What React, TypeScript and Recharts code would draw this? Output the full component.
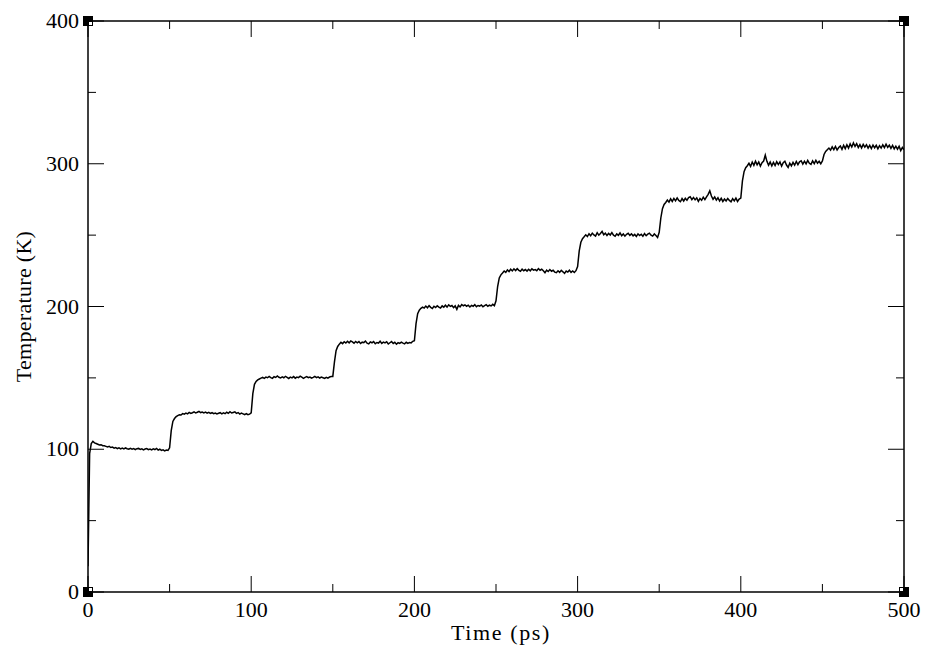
import React from 'react';
import { LineChart, Line, XAxis, YAxis, ReferenceDot } from 'recharts';

// temperature (K) sampled every 1 ps, one array per 50 ps heating step
const seg000 = [18, 97, 104, 105.5, 104.5, 104, 103.5, 103, 103.2, 102.5, 102.4, 102, 101.6, 102, 101.2, 101.5, 100.8, 101.2, 100.5, 101, 100.3, 100.8, 100.2, 100.9, 100.4, 100, 100.7, 100.1, 100.5, 99.8, 100.4, 100.6, 99.9, 100.3, 99.6, 100.2, 100.5, 99.7, 100.1, 99.5, 100.3, 99.8, 100.6, 99.4, 100, 99.2, 99.6, 98.9, 99.4, 99.2];
const seg050 = [101, 113, 119.5, 121.5, 122.8, 123.5, 124.2, 124, 125, 124.6, 125.3, 124.8, 125.8, 125.1, 125.6, 126.2, 125.4, 125.9, 126.5, 125.7, 126.1, 125.5, 126, 125.3, 125.8, 125.1, 125.6, 124.9, 125.4, 124.7, 125.2, 125.6, 124.8, 125.5, 124.9, 125.9, 125.2, 126.3, 125.4, 125.8, 126.2, 125.1, 125.7, 124.6, 125.3, 124.8, 124.3, 125, 124.2, 124.6];
const seg100 = [125.5, 139, 145.5, 147.5, 148.6, 149.2, 149.8, 150.3, 149.6, 150.5, 150.1, 151, 150.2, 149.7, 150.8, 150.3, 151.3, 150.4, 149.9, 150.7, 150.1, 151.1, 150.4, 149.6, 150.5, 150, 150.9, 149.8, 150.6, 150.2, 151.2, 150.5, 149.7, 150.4, 150.9, 150.1, 150.6, 149.8, 150.3, 151, 150.2, 150.7, 149.9, 150.5, 150.1, 149.6, 150.4, 149.8, 150.6, 150.9];
const seg150 = [151, 161, 169, 172, 173.6, 174.9, 174, 175.3, 174.4, 175.6, 174.5, 175.9, 175.2, 174.3, 175.5, 174.6, 175.4, 174.1, 175, 174.7, 175.8, 174.3, 173.8, 175.2, 174.6, 175.4, 173.9, 174.8, 174.4, 175.7, 174.2, 175.1, 174.5, 175.3, 173.7, 174.6, 175.4, 174.1, 174.9, 173.6, 174.7, 174.2, 175.1, 174.4, 173.8, 174.9, 174.1, 174.8, 174.5, 175.6];
const seg200 = [176, 188, 195, 197.4, 198.7, 199.6, 198.9, 200.3, 199.1, 200.6, 199.4, 198.6, 200.2, 199.3, 200.5, 199.6, 198.9, 200.4, 199.5, 200.9, 199.6, 201.2, 200.1, 200.7, 199.2, 200.4, 198, 200.8, 199.7, 201.4, 200.5, 201.1, 200.2, 200.9, 199.7, 200.8, 200.2, 201.3, 199.9, 200.7, 200.3, 201.1, 199.8, 200.6, 201.3, 200.2, 200.9, 200.4, 201.5, 200.6];
const seg250 = [204, 214, 220, 222.2, 223.5, 224.9, 223.9, 225.6, 224.5, 226.1, 224.9, 226.4, 225.2, 226.5, 225.3, 224.7, 226.2, 225.1, 225.9, 224.8, 226.1, 225, 226.4, 225.5, 225.9, 225.1, 226.6, 225.4, 226.1, 225, 223.6, 225.5, 224.5, 225.9, 224.7, 225.4, 224.1, 223.7, 225, 223.9, 225.3, 224.3, 223.2, 224.8, 224.1, 225.4, 223.9, 224.9, 223.8, 225.1];
const seg300 = [228, 239, 245, 247.5, 248.8, 250.2, 249, 251, 249.6, 251.4, 250.1, 249.3, 251.7, 250, 251.1, 252.6, 250.3, 251.4, 249.7, 251.2, 250.1, 251.8, 250, 249.2, 250.9, 249.9, 251.5, 249.6, 250.8, 249.3, 250.6, 251.3, 249.8, 250.9, 249.5, 250.5, 249.1, 250.9, 249.7, 250.6, 249.2, 251.1, 249.6, 250.7, 251.4, 250, 249.3, 250.8, 249.7, 248.4];
const seg350 = [252, 262, 268.5, 271.5, 272.9, 274.6, 273.1, 275.4, 273.6, 275.7, 274, 276.1, 274.3, 273.4, 275.6, 273.9, 275.8, 274.4, 276.3, 276.9, 274.9, 276.4, 274.7, 276.1, 273.6, 275.7, 274.4, 276.6, 274.9, 276.8, 278.6, 281, 277.4, 275.1, 276.7, 274.5, 276.2, 273.9, 275.8, 273.6, 275.3, 273.9, 275.7, 274.3, 273.3, 275.6, 274, 275.9, 273.6, 275.2];
const seg400 = [276, 288, 294.5, 297.2, 298.6, 300.3, 298.1, 301.2, 298.9, 301.8, 299.2, 301.3, 298.4, 300.7, 301.9, 306, 301.7, 299, 301.2, 298.5, 300.9, 298.8, 301.5, 299.4, 301.3, 298.3, 300.8, 301.8, 299.1, 297.4, 300.4, 298.5, 301, 299, 301.6, 299.4, 301.3, 302.1, 299.8, 301.8, 299.9, 302.3, 300.3, 299.6, 302, 300.1, 302.4, 300.4, 301.7, 300];
const seg450 = [302, 306.5, 308.6, 309.8, 311, 309.5, 311.8, 309.9, 312.1, 309.6, 311.4, 312.5, 310.1, 312.9, 310.6, 313.3, 311, 313.9, 311.7, 314.6, 312.1, 314.1, 311.4, 313.4, 311.1, 313.6, 311.6, 313.3, 310.9, 312.9, 310.7, 313.1, 311.2, 312.9, 310.5, 312.7, 311, 313.3, 311.3, 313.7, 311.5, 313, 310.8, 312.8, 310.4, 312.3, 310.2, 312.2, 309.2, 311.4, 309.8];

const segStarts = [0, 50, 100, 150, 200, 250, 300, 350, 400, 450];
const segValues = [seg000, seg050, seg100, seg150, seg200, seg250, seg300, seg350, seg400, seg450];

const xTicks = [0, 50, 100, 150, 200, 250, 300, 350, 400, 450, 500];
const yTicks = [0, 50, 100, 150, 200, 250, 300, 350, 400];

const data = segValues.flatMap((vals, s) =>
  vals.map((temp, i) => ({ time: segStarts[s] + i, temp }))
);

// frame corners, with the side the little notch faces
const corners = [
  { time: 0, temp: 0, qx: 1, qy: -1 },
  { time: 0, temp: 400, qx: 1, qy: 1 },
  { time: 500, temp: 0, qx: -1, qy: -1 },
  { time: 500, temp: 400, qx: -1, qy: 1 },
];

const font = "'Liberation Serif', 'Times New Roman', serif";
const FS = 22;
const axisLine = { stroke: '#000', strokeWidth: 1.5 };
const M = 10; // tickMargin used to find the axis line from the tick position
const MAJOR = 16;
const MINOR = 8;

// inward tick marks drawn by hand so major and minor can differ in length
const makeTick = (side: 'bottom' | 'top' | 'left' | 'right', step: number) => (p: any) => {
  const v = p.payload.value;
  const major = v % step === 0;
  const len = major ? MAJOR : MINOR;
  if (side === 'bottom') {
    const ay = p.y - M;
    return (
      <g>
        <line x1={p.x} x2={p.x} y1={ay} y2={ay - len} stroke="#000" />
        {major && (
          <text x={p.x} y={ay + 25} textAnchor="middle" fontSize={FS} fontFamily={font} fill="#000">{v}</text>
        )}
      </g>
    );
  }
  if (side === 'top') {
    const ay = p.y + M;
    return <line x1={p.x} x2={p.x} y1={ay} y2={ay + len} stroke="#000" />;
  }
  if (side === 'left') {
    const ax = p.x + M;
    return (
      <g>
        <line x1={ax} x2={ax + len} y1={p.y} y2={p.y} stroke="#000" />
        {major && (
          <text x={ax - 9} y={p.y + 7} textAnchor="end" fontSize={FS} fontFamily={font} fill="#000">{v}</text>
        )}
      </g>
    );
  }
  const ax = p.x - M;
  return <line x1={ax} x2={ax - len} y1={p.y} y2={p.y} stroke="#000" />;
};

const cornerShape = (qx: number, qy: number) => (p: any) => (
  <g>
    <rect x={p.cx - 5} y={p.cy - 5} width={10} height={10} fill="#000" />
    <rect x={qx > 0 ? p.cx + 1 : p.cx - 4} y={qy > 0 ? p.cy + 1 : p.cy - 4} width={3} height={3} fill="#fff" />
  </g>
);

const xTitle = (p: any) => {
  const vb = p.viewBox;
  return (
    <text x={vb.x + vb.width / 2 + 5} y={vb.y + 48} textAnchor="middle" fontSize={FS} letterSpacing={1.6} fontFamily={font} fill="#000">
      Time (ps)
    </text>
  );
};

const yTitle = (p: any) => {
  const vb = p.viewBox;
  const cy = vb.y + vb.height / 2;
  return (
    <text x={31} y={cy} transform={`rotate(-90, 31, ${cy})`} textAnchor="middle" fontSize={FS} letterSpacing={0.3} fontFamily={font} fill="#000">
      Temperature (K)
    </text>
  );
};

export default function App() {
  return (
    <>
      <style>{'body { margin: 0; }'}</style>
      <LineChart width={926} height={656} data={data} margin={{ top: 20, right: 21, bottom: 63, left: 87 }}>
        <XAxis xAxisId="x" dataKey="time" type="number" domain={[0, 500]} allowDataOverflow ticks={xTicks} interval={0}
          height={1} tickSize={0} tickMargin={M} tick={makeTick('bottom', 100)} axisLine={axisLine} tickLine={false} label={xTitle} />
        <XAxis xAxisId="xt" orientation="top" dataKey="time" type="number" domain={[0, 500]} allowDataOverflow ticks={xTicks} interval={0}
          height={1} tickSize={0} tickMargin={M} tick={makeTick('top', 100)} axisLine={axisLine} tickLine={false} />
        <YAxis yAxisId="y" type="number" domain={[0, 400]} allowDataOverflow ticks={yTicks} interval={0}
          width={1} tickSize={0} tickMargin={M} tick={makeTick('left', 100)} axisLine={axisLine} tickLine={false} label={yTitle} />
        <YAxis yAxisId="yr" orientation="right" type="number" domain={[0, 400]} allowDataOverflow ticks={yTicks} interval={0}
          width={1} tickSize={0} tickMargin={M} tick={makeTick('right', 100)} axisLine={axisLine} tickLine={false} />
        <Line xAxisId="x" yAxisId="y" type="linear" dataKey="temp" stroke="#000" strokeWidth={1.5} dot={false} isAnimationActive={false} />
        {corners.map((c) => (
          <ReferenceDot key={`${c.time}-${c.temp}`} xAxisId="x" yAxisId="y" x={c.time} y={c.temp} ifOverflow="visible"
            shape={cornerShape(c.qx, c.qy)} />
        ))}
      </LineChart>
    </>
  );
}
